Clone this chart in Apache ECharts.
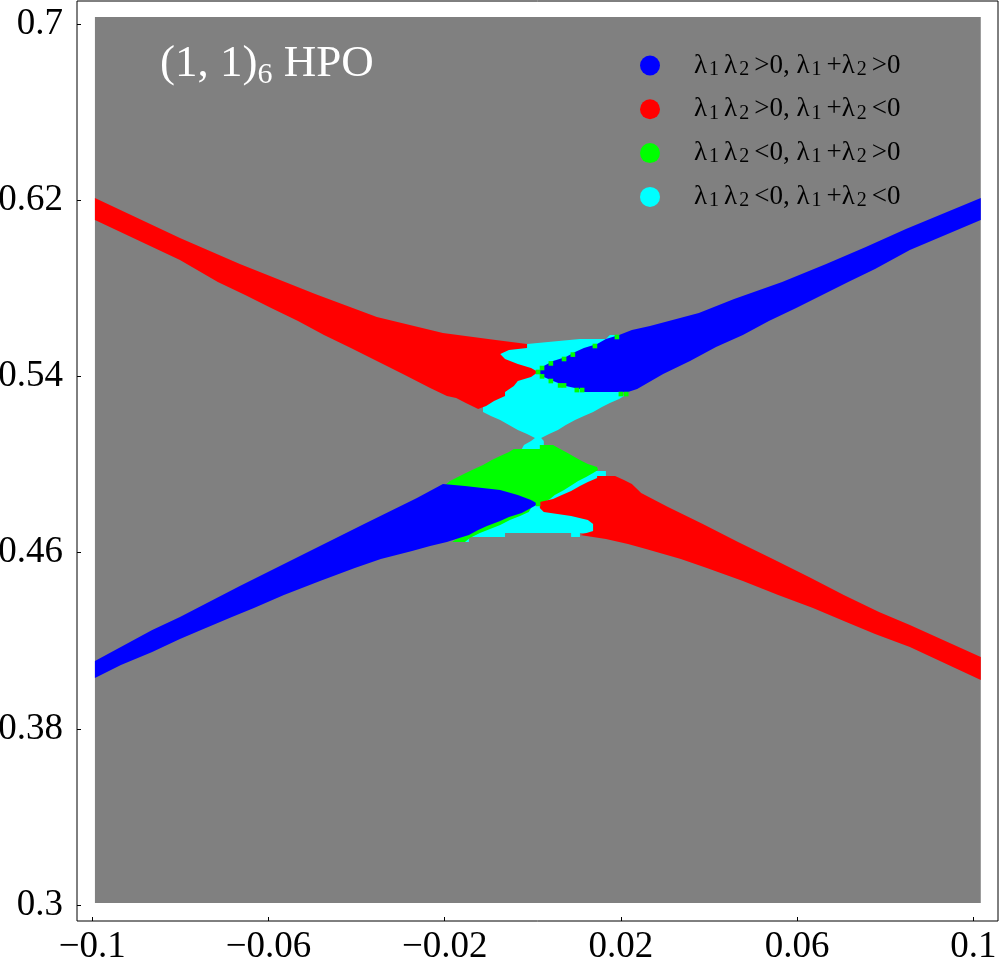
<!DOCTYPE html>
<html><head><meta charset="utf-8">
<script src="https://cdn.jsdelivr.net/npm/echarts@6/dist/echarts.min.js"></script>
<style>html,body{margin:0;padding:0;background:#fff}#c{width:1000px;height:970px}</style>
</head><body><div id="c"></div>
<script>
// ---- axes ----
const xTickValues = [-0.1, -0.06, -0.02, 0.02, 0.06, 0.1];
const xTickLabels = ['−0.1', '−0.06', '−0.02', '0.02', '0.06', '0.1'];
const yTickValues = [0.3, 0.38, 0.46, 0.54, 0.62, 0.7];
const yTickLabels = ['0.3', '0.38', '0.46', '0.54', '0.62', '0.7'];
const xRange = [-0.10347, 0.10561];
const yRange = [0.29274, 0.71044];

// ---- sampled region (gray) ----
const sampledBox = [[-0.0994, 0.3009], [0.1017, 0.7032]];

// ---- legend / series names ----
const nameBlue = 'λ1λ2>0, λ1+λ2>0';
const nameRed = 'λ1λ2>0, λ1+λ2<0';
const nameGreen = 'λ1λ2<0, λ1+λ2>0';
const nameCyan = 'λ1λ2<0, λ1+λ2<0';

// ---- regions (x, y) ----
const redUpper = [[-0.0994,0.6210],[-0.0801,0.6028],[-0.0665,0.5910],[-0.0494,0.5774],[-0.0354,0.5670],[-0.0204,0.5597],[-0.0084,0.5565],[-0.0013,0.5547],[-0.0013,0.5529],[-0.0054,0.5520],[-0.0074,0.5502],[-0.0063,0.5479],[-0.0034,0.5456],[-0.0004,0.5438],[0.0012,0.5420],[-0.0004,0.5397],[-0.0034,0.5379],[-0.0043,0.5356],[-0.0063,0.5329],[-0.0063,0.5311],[-0.0088,0.5288],[-0.0106,0.5266],[-0.0124,0.5252],[-0.0152,0.5279],[-0.0174,0.5302],[-0.0195,0.5311],[-0.0233,0.5347],[-0.0295,0.5411],[-0.0354,0.5470],[-0.0413,0.5529],[-0.0474,0.5588],[-0.0533,0.5652],[-0.0594,0.5711],[-0.0653,0.5770],[-0.0715,0.5829],[-0.0801,0.5928],[-0.0994,0.6110]];
const redLower = [[0.0146,0.4948],[0.0187,0.4948],[0.0207,0.4930],[0.0225,0.4911],[0.0246,0.4871],[0.0307,0.4807],[0.0386,0.4730],[0.0466,0.4648],[0.0545,0.4571],[0.0627,0.4489],[0.0706,0.4407],[0.0786,0.4330],[0.0856,0.4271],[0.1017,0.4126],[0.1017,0.4022],[0.0856,0.4171],[0.0777,0.4230],[0.0706,0.4289],[0.0636,0.4348],[0.0557,0.4407],[0.0477,0.4471],[0.0395,0.4530],[0.0336,0.4571],[0.0257,0.4616],[0.0216,0.4639],[0.0166,0.4662],[0.0107,0.4680],[0.0137,0.4698],[0.0137,0.4730],[0.0125,0.4748],[0.0087,0.4766],[0.0025,0.4784],[0.0016,0.4802],[0.0016,0.4830],[0.0046,0.4843],[0.0066,0.4862],[0.0087,0.4880],[0.0107,0.4902],[0.0125,0.4921],[0.0146,0.4939]];
const blueUpper = [[0.1017,0.6210],[0.0847,0.6069],[0.0756,0.5988],[0.0666,0.5910],[0.0566,0.5829],[0.0457,0.5751],[0.0377,0.5688],[0.0266,0.5629],[0.0225,0.5611],[0.0196,0.5588],[0.0166,0.5570],[0.0146,0.5547],[0.0116,0.5529],[0.0096,0.5511],[0.0075,0.5488],[0.0046,0.5470],[0.0025,0.5447],[0.0012,0.5420],[0.0025,0.5397],[0.0046,0.5379],[0.0075,0.5356],[0.0116,0.5338],[0.0116,0.5329],[0.0216,0.5329],[0.0237,0.5343],[0.0296,0.5411],[0.0357,0.5470],[0.0416,0.5533],[0.0477,0.5588],[0.0536,0.5652],[0.0598,0.5711],[0.0657,0.5770],[0.0716,0.5829],[0.0777,0.5888],[0.0856,0.5974],[0.1017,0.6110]];
const blueLower = [[-0.0994,0.4108],[-0.0864,0.4249],[-0.0801,0.4308],[-0.0665,0.4448],[-0.0524,0.4589],[-0.0383,0.4730],[-0.0263,0.4848],[-0.0204,0.4911],[-0.0154,0.4902],[-0.0074,0.4884],[-0.0034,0.4862],[-0.0004,0.4839],[0.0012,0.4821],[-0.0004,0.4802],[-0.0025,0.4780],[-0.0054,0.4762],[-0.0074,0.4743],[-0.0104,0.4721],[-0.0124,0.4703],[-0.0145,0.4680],[-0.0174,0.4662],[-0.0195,0.4648],[-0.0233,0.4630],[-0.0274,0.4607],[-0.0345,0.4571],[-0.0404,0.4530],[-0.0483,0.4471],[-0.0565,0.4407],[-0.0633,0.4348],[-0.0683,0.4308],[-0.0753,0.4249],[-0.0801,0.4208],[-0.0864,0.4149],[-0.0935,0.4090],[-0.0994,0.4031]];
const cyanUpper = [[-0.0013,0.5547],[0.0107,0.5570],[0.0166,0.5570],[0.0175,0.5588],[0.0191,0.5588],[0.0196,0.5565],[0.0153,0.5474],[0.0084,0.5420],[0.0153,0.5347],[0.0196,0.5329],[0.0207,0.5311],[0.0196,0.5297],[0.0175,0.5279],[0.0157,0.5261],[0.0137,0.5238],[0.0116,0.5220],[0.0096,0.5202],[0.0075,0.5179],[0.0057,0.5157],[0.0037,0.5138],[0.0019,0.5120],[0.0025,0.5107],[0.0025,0.5089],[0.0016,0.5070],[-0.0025,0.5070],[-0.0020,0.5089],[-0.0004,0.5107],[0.0005,0.5120],[-0.0013,0.5138],[-0.0034,0.5157],[-0.0054,0.5179],[-0.0074,0.5202],[-0.0095,0.5220],[-0.0113,0.5238],[-0.0113,0.5270],[-0.0095,0.5288],[-0.0084,0.5311],[-0.0063,0.5329],[-0.0074,0.5420],[-0.0074,0.5502],[-0.0054,0.5529]];
const cyanLower = [[0.0130,0.4970],[0.0166,0.4970],[0.0166,0.4948],[0.0153,0.4930],[0.0130,0.4839],[0.0137,0.4730],[0.0137,0.4689],[0.0107,0.4689],[0.0107,0.4671],[0.0087,0.4671],[0.0087,0.4689],[-0.0063,0.4689],[-0.0063,0.4671],[-0.0145,0.4671],[-0.0145,0.4648],[-0.0161,0.4648],[-0.0074,0.4793],[0.0016,0.4848],[0.0107,0.4948]];
const greenMain = [[0.0016,0.5089],[0.0046,0.5089],[0.0062,0.5070],[0.0075,0.5057],[0.0091,0.5039],[0.0107,0.5020],[0.0125,0.5002],[0.0146,0.4989],[0.0148,0.4975],[0.0137,0.4961],[0.0121,0.4943],[0.0103,0.4925],[0.0089,0.4907],[0.0071,0.4884],[0.0050,0.4862],[0.0039,0.4843],[0.0019,0.4821],[0.0007,0.4821],[-0.0004,0.4839],[-0.0034,0.4857],[-0.0074,0.4880],[-0.0154,0.4898],[-0.0199,0.4907],[-0.0188,0.4925],[-0.0170,0.4943],[-0.0152,0.4961],[-0.0133,0.4980],[-0.0113,0.4998],[-0.0093,0.5020],[-0.0074,0.5039],[-0.0054,0.5057],[-0.0043,0.5070],[0.0016,0.5070]];
const greenStrip = [[-0.0004,0.4802],[-0.0009,0.4784],[-0.0029,0.4766],[-0.0052,0.4748],[-0.0074,0.4725],[-0.0097,0.4707],[-0.0120,0.4689],[-0.0143,0.4666],[-0.0154,0.4648],[-0.0183,0.4648],[-0.0143,0.4703],[-0.0074,0.4771],[-0.0018,0.4812]];
// single green sample cells (centres)
const greenCells = [[0.0191,0.5579],[0.0141,0.5538],[0.0091,0.5499],[0.0071,0.5479],[0.0041,0.5459],[0.0021,0.5438],[0.0012,0.5420],[0.0021,0.5400],[0.0041,0.5379],[0.0062,0.5359],[0.0071,0.5359],[0.0100,0.5338],[0.0112,0.5338],[0.0200,0.5320],[0.0212,0.5320],[0.0012,0.4821]];
const cellSize = [0.00105, 0.0021];

const COLORS = { gray: '#808080', blue: '#0000ff', red: '#ff0000', green: '#00ff00', cyan: '#00ffff' };

function polySeries(name, polys, color) {
  return {
    type: 'custom', name: name, silent: true, animation: false,
    itemStyle: { color: color },
    data: polys.map(p => p[0]),
    renderItem: function (params, api) {
      const pts = polys[params.dataIndex].map(p => api.coord(p));
      return { type: 'polygon', shape: { points: pts }, style: { fill: color } };
    }
  };
}

function tickFmt(vals, labs) {
  return function (v) {
    for (let i = 0; i < vals.length; i++) if (Math.abs(vals[i] - v) < 1e-9) return labs[i];
    return '';
  };
}

function richName(name) {
  return '{p| }' + name.split(/(λ\d)/).filter(Boolean).map(part =>
    /^λ\d$/.test(part) ? '{t|λ}{s|' + part[1] + '}' : '{t|' + part + '}').join('');
}

const serif = 'Liberation Serif';
const chart = echarts.init(document.getElementById('c'), null, { renderer: 'canvas' });
chart.setOption({
  animation: false,
  backgroundColor: '#ffffff',
  title: {
    text: '{a|(1, 1)}{b|6}{a| HPO}',
    left: 160, top: 38, padding: 0,
    textStyle: {
      fontWeight: 'normal',
      rich: {
        a: { fontFamily: serif, fontSize: 45, fontWeight: 'normal', color: '#ffffff', lineHeight: 52 },
        b: { fontFamily: serif, fontSize: 30, fontWeight: 'normal', color: '#ffffff', lineHeight: 20, verticalAlign: 'bottom' }
      }
    }
  },
  legend: {
    orient: 'vertical', left: 640, top: 52, padding: 0,
    itemWidth: 20, itemHeight: 20, itemGap: 16.3,
    icon: 'circle', selectedMode: false,
    data: [nameBlue, nameRed, nameGreen, nameCyan],
    formatter: richName,
    textStyle: {
      color: '#000',
      rich: {
        p: { width: 29, fontSize: 10, lineHeight: 28 },
        t: { fontFamily: serif, fontSize: 27, color: '#000', lineHeight: 28 },
        s: { fontFamily: serif, fontSize: 20, color: '#000', lineHeight: 12, verticalAlign: 'bottom', padding: [0, 5, 0, 2] }
      }
    }
  },
  grid: { left: 77, right: 2, top: 1, bottom: 49, show: true, borderColor: '#000', borderWidth: 1, backgroundColor: 'transparent', containLabel: false, outerBoundsMode: 'none' },
  xAxis: {
    type: 'value', min: xRange[0], max: xRange[1],
    axisLine: { show: false, onZero: false }, splitLine: { show: false },
    axisTick: { show: true, inside: true, length: 4, lineStyle: { color: '#000', width: 1 }, customValues: xTickValues },
    axisLabel: { customValues: xTickValues, formatter: tickFmt(xTickValues, xTickLabels), fontFamily: serif, fontSize: 37, color: '#000', margin: 8 }
  },
  yAxis: {
    type: 'value', min: yRange[0], max: yRange[1],
    axisLine: { show: false, onZero: false }, splitLine: { show: false },
    axisTick: { show: true, inside: true, length: 4, lineStyle: { color: '#000', width: 1 }, customValues: yTickValues },
    axisLabel: { customValues: yTickValues, formatter: tickFmt(yTickValues, yTickLabels), fontFamily: serif, fontSize: 37, color: '#000', margin: 14 }
  },
  series: [
    {
      type: 'custom', name: 'sampled', silent: true, animation: false,
      data: [sampledBox[0]],
      renderItem: function (params, api) {
        const a = api.coord(sampledBox[0]), b = api.coord(sampledBox[1]);
        return { type: 'rect', shape: { x: a[0], y: b[1], width: b[0] - a[0], height: a[1] - b[1] }, style: { fill: COLORS.gray } };
      }
    },
    polySeries(nameCyan, [cyanUpper, cyanLower], COLORS.cyan),
    polySeries(nameGreen, [greenMain, greenStrip], COLORS.green),
    polySeries(nameRed, [redUpper, redLower], COLORS.red),
    polySeries(nameBlue, [blueUpper, blueLower], COLORS.blue),
    {
      type: 'custom', name: nameGreen, silent: true, animation: false,
      itemStyle: { color: COLORS.green },
      data: greenCells,
      renderItem: function (params, api) {
        const c = greenCells[params.dataIndex];
        const tl = api.coord([c[0] - cellSize[0] / 2, c[1] + cellSize[1] / 2]);
        const sz = api.size(cellSize);
        return { type: 'rect', shape: { x: tl[0], y: tl[1], width: sz[0], height: sz[1] }, style: { fill: COLORS.green } };
      }
    }
  ]
});
</script>
</body></html>
